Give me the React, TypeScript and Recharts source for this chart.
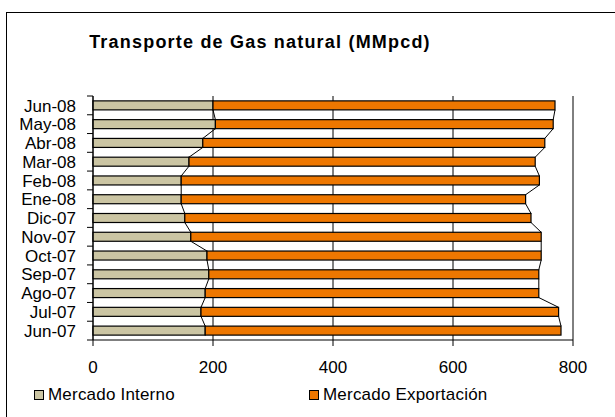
import { BarChart, Bar, XAxis, YAxis, CartesianGrid } from 'recharts';

const months = ['Jun-07', 'Jul-07', 'Ago-07', 'Sep-07', 'Oct-07', 'Nov-07', 'Dic-07', 'Ene-08', 'Feb-08', 'Mar-08', 'Abr-08', 'May-08', 'Jun-08'];
const mercadoInterno = [187, 180, 187, 193, 190, 163, 153, 147, 147, 160, 183, 204, 200];
const mercadoExportacion = [593, 596, 556, 550, 557, 584, 577, 574, 597, 577, 570, 563, 570];
const xTicks = [0, 200, 400, 600, 800];

const data = months.map((month, i) => ({
  month,
  interno: mercadoInterno[i],
  exportacion: mercadoExportacion[i],
}));

const FONT = '"Liberation Sans", Arial, sans-serif';
const W = 615;
const H = 417;
const PLOT_TOP = 96;
const X_AXIS_H = 77;
const AXIS_X = 93;
const BAND = (H - PLOT_TOP - X_AXIS_H) / months.length;

const INTERNO = '#CBC5A3';
const EXPORT = '#EE7700';

// Excel-style series lines: connect the end of each segment to the same end on the next bar
const makeShape = (series: 'interno' | 'exportacion') => (props: any) => {
  const { x, y, width, height, fill } = props;
  const idx = months.indexOf(props.payload?.month);
  const row = data[idx];
  const next = data[idx + 1];
  let line = null;
  if (row && next) {
    const k = width / row[series];
    const x0 = series === 'interno' ? x : x - row.interno * k;
    const nextEnd = series === 'interno' ? x0 + next.interno * k : x0 + (next.interno + next.exportacion) * k;
    line = <line x1={x + width} y1={y} x2={nextEnd} y2={y - BAND + height} stroke="#000" strokeWidth={1} />;
  }
  return (
    <g>
      <rect x={x} y={y} width={width} height={height} fill={fill} stroke="#000" strokeWidth={1.2} />
      {line}
    </g>
  );
};

const YTick = (props: any) => {
  const { y, payload } = props;
  const first = payload.value === months[0];
  return (
    <g>
      <line x1={AXIS_X - 6} y1={y - BAND / 2} x2={AXIS_X} y2={y - BAND / 2} stroke="#000" />
      {first && <line x1={AXIS_X - 6} y1={y + BAND / 2} x2={AXIS_X} y2={y + BAND / 2} stroke="#000" />}
      <text x={76} y={y} dy="0.36em" textAnchor="end" fontSize={17} fontFamily={FONT} fill="#000">
        {payload.value}
      </text>
    </g>
  );
};

const LegendItem = ({ left, color, label }: { left: number; color: string; label: string }) => (
  <div style={{ position: 'absolute', left, top: 385, display: 'flex', alignItems: 'center', fontSize: 17, fontFamily: FONT, color: '#000', lineHeight: '20px', letterSpacing: 0.2 }}>
    <span style={{ display: 'inline-block', width: 8, height: 8, background: color, border: '1px solid #000', marginRight: 4 }} />
    {label}
  </div>
);

export default function App() {
  return (
    <div style={{ position: 'absolute', left: 0, top: 0, width: W, height: H, overflow: 'hidden', background: '#fff' }}>
      <div style={{ position: 'absolute', left: 6, top: 12, width: 640, height: 440, border: '1px solid #000' }} />
      <div style={{ position: 'absolute', left: 60, width: 400, top: 32, textAlign: 'center', fontFamily: FONT, fontWeight: 'bold', fontSize: 18, lineHeight: '20px', letterSpacing: 1.2 }}>
        Transporte de Gas natural (MMpcd)
      </div>
      <div style={{ position: 'absolute', left: 0, top: 0 }}>
        <BarChart width={W} height={H} layout="vertical" data={data} margin={{ top: PLOT_TOP, right: 42, bottom: 0, left: 0 }} barCategoryGap="26%">
          <CartesianGrid horizontal={false} stroke="#000" />
          <XAxis
            type="number"
            domain={[0, 800]}
            ticks={xTicks}
            height={X_AXIS_H}
            tickSize={6}
            tickMargin={15}
            axisLine={{ stroke: '#000' }}
            tickLine={{ stroke: '#000' }}
            tick={{ fill: '#000', fontSize: 17, fontFamily: FONT }}
          />
          <YAxis type="category" dataKey="month" reversed width={AXIS_X} tickLine={false} axisLine={{ stroke: '#000' }} tick={<YTick />} interval={0} />
          <Bar dataKey="interno" stackId="a" fill={INTERNO} isAnimationActive={false} shape={makeShape('interno')} />
          <Bar dataKey="exportacion" stackId="a" fill={EXPORT} isAnimationActive={false} shape={makeShape('exportacion')} />
        </BarChart>
      </div>
      <LegendItem left={34} color={INTERNO} label="Mercado Interno" />
      <LegendItem left={309} color={EXPORT} label="Mercado Exportación" />
    </div>
  );
}
